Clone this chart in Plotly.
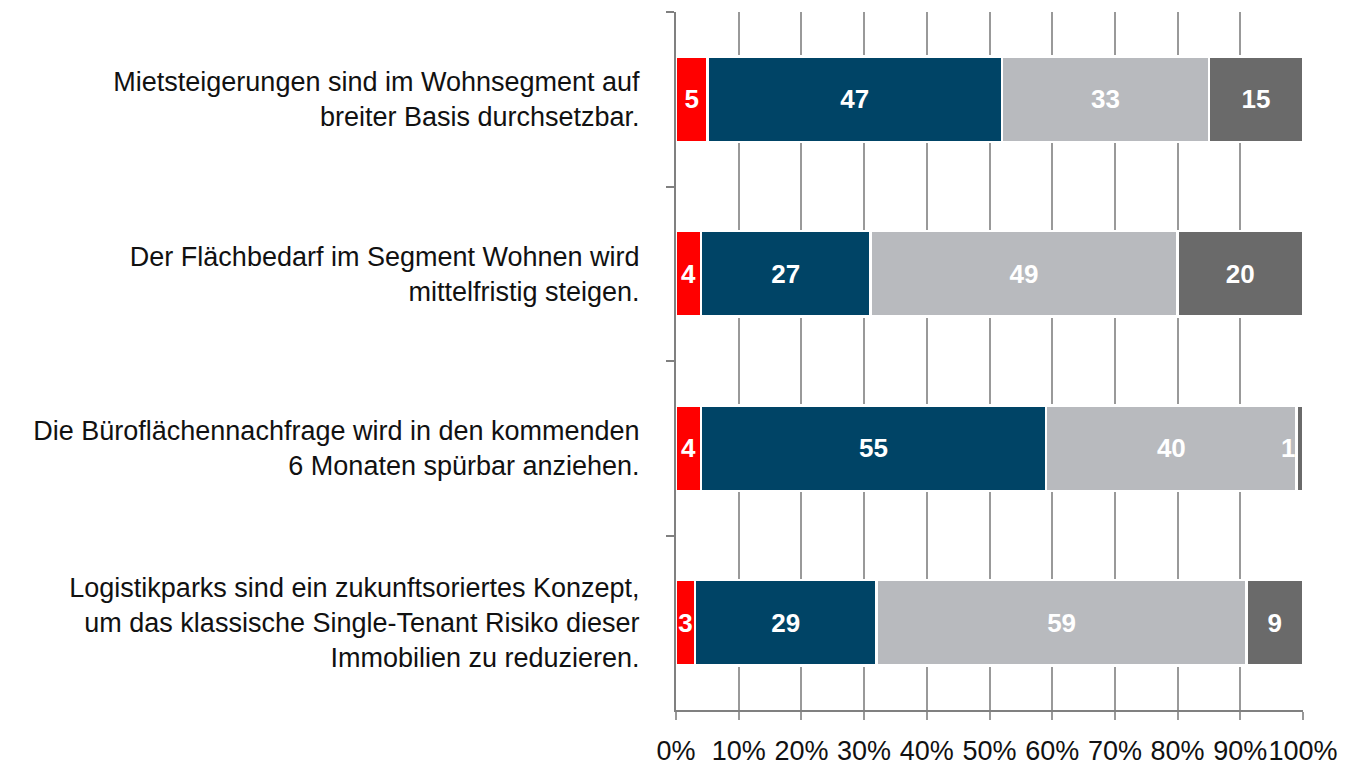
import plotly.graph_objects as go

categories = [
    "Mietsteigerungen sind im Wohnsegment auf<br>breiter Basis durchsetzbar.",
    "Der Flächbedarf im Segment Wohnen wird<br>mittelfristig steigen.",
    "Die Büroflächennachfrage wird in den kommenden<br>6 Monaten spürbar anziehen.",
    "Logistikparks sind ein zukunftsoriertes Konzept,<br>um das klassische Single-Tenant Risiko dieser<br>Immobilien zu reduzieren.",
]
series_names = ["A", "B", "C", "D"]
red_vals = [5, 4, 4, 3]
blue_vals = [47, 27, 55, 29]
lightgray_vals = [33, 49, 40, 59]
darkgray_vals = [15, 20, 1, 9]
x_ticks = [0, 10, 20, 30, 40, 50, 60, 70, 80, 90, 100]
x_tick_labels = [f"{v}%" for v in x_ticks]

all_series = [red_vals, blue_vals, lightgray_vals, darkgray_vals]
colors = ["#FF0000", "#004466", "#B8BABE", "#6A6A6A"]

fig = go.Figure()
SMALL = 2
for name, vals, col in zip(series_names, all_series, colors):
    texts = [str(v) if v >= SMALL or name == "A" else "" for v in vals]
    fig.add_trace(go.Bar(
        y=categories, x=vals, name=name, orientation="h",
        marker=dict(color=col, line=dict(color="white", width=2.5)),
        text=texts, textposition="inside", insidetextanchor="middle",
        textangle=0, constraintext="none",
        textfont=dict(family="Liberation Sans", size=26, color="white", weight="bold"),
        hoverinfo="skip",
    ))

# labels for tiny end segments, placed just inside the preceding segment
for i, cat in enumerate(categories):
    v = darkgray_vals[i]
    if v < SMALL:
        end = red_vals[i] + blue_vals[i] + lightgray_vals[i] + v
        fig.add_annotation(
            x=end, y=cat, text=str(v), showarrow=False, xanchor="right", xshift=-6,
            font=dict(family="Liberation Sans", size=26, color="white", weight="bold"),
        )

fig.update_layout(
    barmode="stack", bargap=0.51, showlegend=False,
    width=1345, height=766,
    margin=dict(l=676, r=42, t=12, b=56, autoexpand=False),
    paper_bgcolor="white", plot_bgcolor="white",
    font=dict(family="Liberation Sans", color="#111111"),
)
fig.update_xaxes(
    range=[0, 100], tickvals=x_ticks, ticktext=x_tick_labels, tickangle=0,
    showgrid=True, gridcolor="#999999", gridwidth=1.5, zeroline=False,
    showline=True, linecolor="#808080", linewidth=2,
    ticks="outside", ticklen=8, tickcolor="#999999", tickwidth=1.5,
    ticklabelstandoff=8, automargin=False,
    tickfont=dict(family="Liberation Sans", size=27, color="#111111"),
)
fig.update_yaxes(
    autorange="reversed", type="category", tickson="boundaries",
    showgrid=False, showline=True, linecolor="#808080", linewidth=2,
    ticks="outside", ticklen=8, tickcolor="#808080", tickwidth=1.5,
    ticklabelstandoff=29, automargin=False,
    tickfont=dict(family="Liberation Sans", size=27, color="#111111"),
)

fig.write_html(
    "out.html",
    config={"displayModeBar": False},
    post_script="document.body.style.margin='0';document.body.style.overflow='hidden';",
)
